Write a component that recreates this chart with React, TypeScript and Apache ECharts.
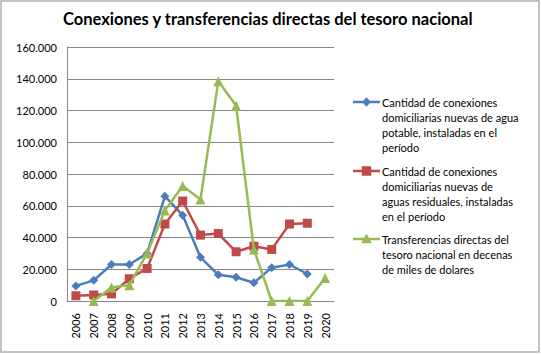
import React, { useEffect, useRef } from "react";
import * as echarts from "echarts";

const years = ["2006", "2007", "2008", "2009", "2010", "2011", "2012", "2013", "2014", "2015", "2016", "2017", "2018", "2019", "2020"];
const aguaPotable = [9500, 13000, 23000, 23000, 30000, 66000, 54000, 27500, 16500, 15000, 11500, 21000, 23000, 17000, null];
const aguasResiduales = [3300, 3800, 4500, 14000, 20500, 48500, 63000, 41500, 42500, 31000, 34500, 32500, 48500, 49000, null];
const transferencias = [null, 0, 8500, 10000, 30000, 57000, 72500, 64000, 138500, 123000, 32500, 0, 0, 0, 14500];

const seriesNames = [
  "Cantidad de conexiones domiciliarias nuevas de agua potable, instaladas en el período",
  "Cantidad de conexiones domiciliarias nuevas de aguas residuales, instaladas en el período",
  "Transferencias directas del tesoro nacional en decenas de miles de dolares",
];
const legendLines = [
  ["Cantidad de conexiones", "domiciliarias nuevas de agua", "potable, instaladas en el", "período"],
  ["Cantidad de conexiones", "domiciliarias nuevas de", "aguas residuales, instaladas", "en el período"],
  ["Transferencias directas del", "tesoro nacional en decenas", "de miles de dolares"],
];
const colors = ["#4A7EBB", "#BE4B48", "#98B954"];
const titleText = "Conexiones y transferencias directas del tesoro nacional";

const fmt = (v: number) => String(v).replace(/\B(?=(\d{3})+(?!\d))/g, ".");
const FONT = "Lato, 'Open Sans', sans-serif";

function legendMarker(i: number, cx: number, cy: number) {
  const style = { fill: colors[i], stroke: colors[i], lineWidth: 0.5 };
  if (i === 0) {
    return {
      type: "polygon",
      shape: { points: [[cx, cy - 4.5], [cx + 4, cy], [cx, cy + 4.5], [cx - 4, cy]] },
      style,
    };
  }
  if (i === 1) {
    return { type: "rect", shape: { x: cx - 4.5, y: cy - 4.5, width: 9, height: 9 }, style };
  }
  return {
    type: "polygon",
    shape: { points: [[cx, cy - 5], [cx + 5, cy + 4], [cx - 5, cy + 4]] },
    style,
  };
}

export default function App() {
  const ref = useRef<HTMLDivElement>(null);
  useEffect(() => {
    if (!ref.current) return;
    const chart = echarts.init(ref.current, null, { renderer: "svg" });
    const LH = 15;
    const iconCenters = [102, 171, 239];
    const legendGraphics: any[] = [];
    seriesNames.forEach((name, i) => {
      const cy = iconCenters[i];
      legendGraphics.push({
        type: "line",
        shape: { x1: 353, y1: cy, x2: 380, y2: cy },
        style: { stroke: colors[i], lineWidth: 2.5 },
        silent: true,
      });
      legendGraphics.push({ ...legendMarker(i, 366.5, cy), silent: true });
      legendGraphics.push({
        type: "text",
        x: 382,
        y: cy - LH / 2,
        silent: true,
        style: {
          text: legendLines[i].join("\n"),
          fontFamily: FONT,
          fontSize: 11,
          lineHeight: LH,
          fill: "#000",
          align: "left",
          verticalAlign: "top",
        },
      });
    });
    chart.setOption({
      animation: false,
      backgroundColor: "#fff",
      title: {
        text: titleText,
        left: 63,
        top: 10,
        padding: 0,
        textStyle: { fontFamily: FONT, fontSize: 16.5, fontWeight: "bold", color: "#000" },
      },
      grid: { left: 67, right: 207, top: 47, bottom: 54 },
      xAxis: {
        type: "category",
        data: years,
        boundaryGap: true,
        axisLine: { lineStyle: { color: "#868686", width: 1 } },
        axisTick: { show: false },
        axisLabel: { rotate: 90, fontFamily: FONT, fontSize: 11, color: "#000", margin: 12, interval: 0 },
      },
      yAxis: {
        type: "value",
        min: 0,
        max: 160000,
        interval: 20000,
        axisLine: { show: true, lineStyle: { color: "#868686", width: 1 } },
        axisTick: { show: false },
        splitLine: { lineStyle: { color: "#868686", width: 1 } },
        axisLabel: { fontFamily: FONT, fontSize: 11, color: "#000", margin: 10, formatter: fmt },
      },
      graphic: [
        {
          type: "rect",
          shape: { x: 1, y: 1, width: 538, height: 351 },
          style: { fill: "none", stroke: "#b0b0b0", lineWidth: 1.5 },
          silent: true,
          z: -1,
        },
        ...legendGraphics,
      ],
      series: [
        {
          name: seriesNames[0],
          type: "line",
          data: aguaPotable,
          symbol: "diamond",
          symbolSize: 9,
          color: colors[0],
          lineStyle: { width: 2.5, color: colors[0] },
          itemStyle: { color: colors[0] },
          z: 3,
        },
        {
          name: seriesNames[1],
          type: "line",
          data: aguasResiduales,
          symbol: "rect",
          symbolSize: 9,
          color: colors[1],
          lineStyle: { width: 2.5, color: colors[1] },
          itemStyle: { color: colors[1] },
          z: 4,
        },
        {
          name: seriesNames[2],
          type: "line",
          data: transferencias,
          symbol: "triangle",
          symbolSize: 10,
          color: colors[2],
          lineStyle: { width: 2.5, color: colors[2] },
          itemStyle: { color: colors[2] },
          z: 5,
        },
      ],
    });
    return () => chart.dispose();
  }, []);
  return (
    <div
      ref={ref}
      style={{ position: "absolute", left: 0, top: 0, width: 541, height: 355 }}
    />
  );
}
